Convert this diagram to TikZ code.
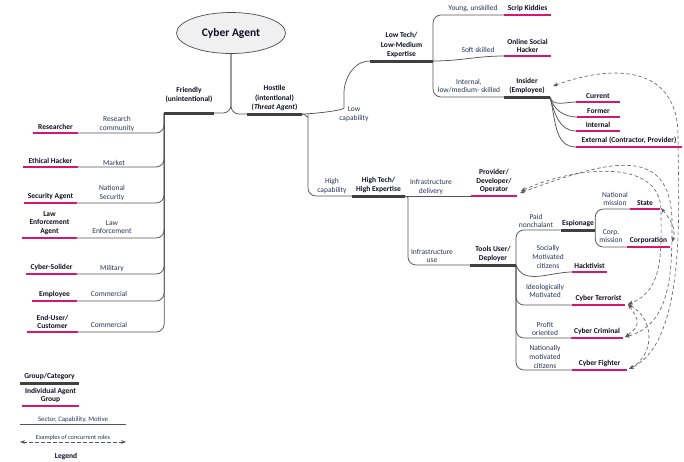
\documentclass[tikz,border=0pt]{standalone}
\usepackage{fontspec}
\setmainfont{Carlito}
\usetikzlibrary{arrows.meta,shapes.geometric,positioning}

\definecolor{agentpink}{RGB}{214,22,112}
\definecolor{groupgray}{RGB}{64,64,64}
\definecolor{linkgray}{RGB}{85,85,85}
\definecolor{sectortext}{RGB}{40,50,90}
\definecolor{labeltext}{RGB}{15,15,35}

\tikzset{
  every node/.style={inner sep=1.5pt, outer sep=0pt},
  agent/.style={anchor=south, align=center, minimum width=#1, inner ysep=3pt,
    text=labeltext, font=\bfseries\fontsize{7.5}{8.8}\selectfont},
  group/.style={agent=#1, font=\bfseries\fontsize{7.5}{9.6}\selectfont},
  sector/.style={align=center, text=sectortext, font=\fontsize{7.5}{8.6}\selectfont},
  link/.style={draw=linkgray, line width=0.75pt, rounded corners=8pt},
  pinkbar/.style={draw=agentpink, line width=2.5pt},
  darkbar/.style={draw=groupgray, line width=3pt},
  role/.style={draw=gray!70!black, line width=0.6pt, dash pattern=on 3.5pt off 2.5pt,
    {Stealth[length=5pt,width=3.8pt]}-{Stealth[length=5pt,width=3.8pt]}},
}

\begin{document}
\begin{tikzpicture}[x=1pt,y=1pt]
  \useasboundingbox (0,0) rectangle (684,-461);

  \node[ellipse, draw=gray!60!black, fill=gray!12, line width=0.7pt, minimum width=109,
    minimum height=41, text=labeltext, font=\bfseries\fontsize{11.5}{13}\selectfont]
    (agent) at (231,-33) {Cyber Agent};

  % groups / categories
  \node[group=48, inner ysep=10pt] (friendly) at (189,-113) {Friendly\\(unintentional)};
  \node[group=55] (hostile) at (274.5,-114) {Hostile\\(intentional)\\(\textit{Threat Agent})};
  \node[group=63] (low tech) at (401.5,-61) {Low Tech/\\Low-Medium\\Expertise};
  \node[group=53] (high tech) at (378.5,-196) {High Tech/\\High Expertise};
  \node[group=46] (insider) at (527,-97) {Insider\\(Employee)};
  \node[group=46] (tools user) at (493,-265) {Tools User/\\Deployer};
  \node[group=34] (espionage) at (578,-230) {Espionage};

  % individual agent groups
  \node[agent=45] (researcher) at (55.5,-133) {Researcher};
  \node[agent=55] (ethical) at (50.5,-167) {Ethical Hacker};
  \node[agent=53] (secagent) at (50.5,-203) {Security Agent};
  \node[agent=55] (lawagent) at (49.5,-238) {Law\\Enforcement\\Agent};
  \node[agent=51] (soldier) at (51.5,-274) {Cyber-Solider};
  \node[agent=45] (employee) at (54.5,-301) {Employee};
  \node[agent=51] (customer) at (52.5,-332) {End-User/\\Customer};
  \node[agent=47] (scrip) at (527.5,-15) {Scrip Kiddies};
  \node[agent=47] (social) at (527.5,-56) {Online Social\\Hacker};
  \node[agent=44] (current) at (598,-102) {Current};
  \node[agent=43] (former) at (598.5,-117) {Former};
  \node[agent=44] (internal) at (598,-131) {Internal};
  \node[agent=106] (external) at (629,-147) {External (Contractor, Provider)};
  \node[agent=46] (provider) at (494,-196) {Provider/\\Developer/\\Operator};
  \node[agent=30] (state) at (645,-209) {State};
  \node[agent=43] (corporation) at (648.5,-247) {Corporation};
  \node[agent=35] (hacktivist) at (589.5,-272) {Hacktivist};
  \node[agent=53] (terrorist) at (598.5,-305) {Cyber Terrorist};
  \node[agent=52] (criminal) at (597,-338) {Cyber Criminal};
  \node[agent=55] (fighter) at (599.5,-370) {Cyber Fighter};

  % sector, capability, motive
  \node[sector] (research community) at (117,-124) {Research\\community};
  \node[sector] (market) at (114,-163) {Market};
  \node[sector] (national security) at (112,-193) {National\\Security};
  \node[sector] (law enforcement) at (112,-227) {Law\\Enforcement};
  \node[sector] (military) at (112,-268) {Military};
  \node[sector] (commercial a) at (109,-294) {Commercial};
  \node[sector] (commercial b) at (109,-325) {Commercial};
  \node[sector] (low cap) at (354,-114) {Low\\capability};
  \node[sector] (high cap) at (332,-186) {High\\capability};
  \node[sector] (young) at (473,-9) {Young, unskilled};
  \node[sector] (soft) at (478,-50) {Soft skilled};
  \node[sector] (internal skill) at (469,-86) {Internal,\\low/medium- skilled};
  \node[sector] (delivery) at (431,-187) {Infrastructure\\delivery};
  \node[sector] (use) at (432,-256) {Infrastructure\\use};
  \node[sector] (paid) at (536,-221) {Paid\\nonchalant};
  \node[sector] (national mission) at (615,-199) {National\\mission};
  \node[sector] (corp mission) at (611,-236) {Corp.\\mission};
  \node[sector] (socially) at (548,-257) {Socially\\Motivated\\citizens};
  \node[sector] (ideologically) at (545,-291) {Ideologically\\Motivated};
  \node[sector] (profit) at (545,-329) {Profit\\oriented};
  \node[sector] (nationally) at (545,-357) {Nationally\\motivated\\citizens};

  % legend
  \node[group=59] (legend group) at (49.5,-383) {Group/Category};
  \node[agent=57] (legend agent) at (50.5,-406) {Individual Agent\\Group};
  \node[sector, anchor=south, minimum width=106, font=\fontsize{6.8}{8}\selectfont]
    (legend sector) at (73,-424) {Sector, Capability, Motive};
  \node[sector, anchor=south, minimum width=106, font=\fontsize{6.3}{8}\selectfont]
    (legend role) at (73,-442) {Examples of concurrent roles};
  \node[text=labeltext, font=\bfseries\fontsize{7.5}{8}\selectfont] (legend) at (66,-456) {Legend};

  % tree
  \draw[link] (agent.south) |- (friendly.south east);
  \draw[link] (agent.south) |- (hostile.south west);
  \foreach \n in {researcher,ethical,secagent,lawagent,soldier,employee,customer}
    \draw[link] (friendly.south west) |- (\n.south east);
  \draw[link] (hostile.south east) to[out=0,in=-90,looseness=0.6] ++(42,14)
    to[out=90,in=180] (low tech.south west);
  \draw[link] (hostile.south east) to[out=0,in=90] ++(6,-10) |- (high tech.south west);
  \draw[link] (low tech.south east) |- (scrip.south west);
  \draw[link] (low tech.south east) to[out=0,in=180] (social.south west);
  \draw[link] (low tech.south east) |- (insider.south west);
  \foreach \n in {current,former,internal,external}
    \draw[link] (insider.south east) to[out=-75,in=180] (\n.south west);
  \draw[link] (high tech.south east) -- (provider.south west);
  \draw[link] (high tech.south east) to[out=0,in=90] ++(3,-8) |- (tools user.south west);
  \draw[link] (tools user.south east) |- (espionage.south west);
  \draw[link] (tools user.south east) to[out=-70,in=180] (hacktivist.south west);
  \foreach \n in {terrorist,criminal,fighter}
    \draw[link] (tools user.south east) |- (\n.south west);
  \draw[link] (espionage.south east) |- (state.south west);
  \draw[link] (espionage.south east) |- (corporation.south west);
  \draw[link] (legend sector.south west) -- (legend sector.south east);

  % bars
  \foreach \n in {friendly,hostile,low tech,high tech,insider,tools user,espionage,legend group}
    \draw[darkbar] (\n.south west) -- (\n.south east);
  \foreach \n in {researcher,ethical,secagent,lawagent,soldier,employee,customer,scrip,social,
    current,former,internal,external,provider,state,corporation,hacktivist,terrorist,
    criminal,fighter,legend agent}
    \draw[pinkbar] (\n.south west) -- (\n.south east);

  % concurrent roles
  \draw[role] ([xshift=3pt]insider.east) to[out=20,in=90,looseness=1.3] ++(125,-50)
    to[out=-90,in=25,looseness=0.7] ([xshift=2pt,yshift=1pt]fighter.south east);
  \draw[role] ([xshift=3pt,yshift=3pt]provider.south east) to[out=20,in=90,looseness=1.4] ++(152,-30)
    to[out=-90,in=15] ([xshift=2pt,yshift=1pt]criminal.south east);
  \draw[role] ([xshift=4pt,yshift=5pt]provider.south east) to[out=25,in=90] ++(140,-20)
    to[out=-90,in=20] ([xshift=3pt,yshift=1pt]terrorist.south east);
  \draw[role] ([xshift=1pt,yshift=1pt]state.south east) to[out=-50,in=70]
    ([xshift=2pt,yshift=5pt]corporation.south east);
  \draw[role] ([xshift=3pt,yshift=1pt]terrorist.south east) to[out=-30,in=30,looseness=1.2]
    ([xshift=2pt,yshift=1pt]fighter.south east);
  \draw[role] ([xshift=3pt,yshift=1pt]terrorist.south east) to[out=-55,in=35,looseness=1.5]
    ([xshift=2pt,yshift=1pt]criminal.south east);
  \draw[role] (legend role.south west) -- (legend role.south east);
\end{tikzpicture}
\end{document}
